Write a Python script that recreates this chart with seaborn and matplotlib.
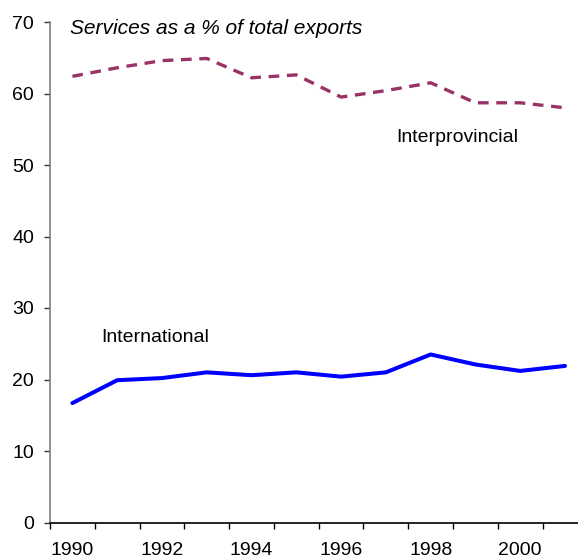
import pandas as pd
import matplotlib.pyplot as plt
import seaborn as sns

# DADOS
anos = ['1990', '1991', '1992', '1993', '1994', '1995', '1996', '1997', '1998', '1999', '2000', '2001']
internacional = [16.7, 19.9, 20.2, 21.0, 20.6, 21.0, 20.4, 21.0, 23.5, 22.1, 21.2, 21.9]
interprovincial = [62.4, 63.6, 64.6, 64.9, 62.2, 62.6, 59.5, 60.4, 61.5, 58.7, 58.7, 58.0]
rotulos_x = ['1990', '', '1992', '', '1994', '', '1996', '', '1998', '', '2000', '']

sns.set_style('white')
plt.rcParams['font.family'] = ['Liberation Sans', 'DejaVu Sans']
plt.rcParams['text.color'] = 'black'
plt.rcParams['xtick.color'] = 'black'
plt.rcParams['ytick.color'] = 'black'

df = pd.DataFrame({'pos': range(len(anos)), 'International': internacional,
                   'Interprovincial': interprovincial})

fig = plt.figure(figsize=(5.78, 5.6), dpi=100)
ax = fig.add_axes([50 / 578, 1 - 522.5 / 560, 1 - 50 / 578, 500.5 / 560])

sns.lineplot(data=df, x='pos', y='Interprovincial', ax=ax, color='#993366',
             linewidth=2.4, linestyle=(0, (3.2, 2.3)))
sns.lineplot(data=df, x='pos', y='International', ax=ax, color='#0000FF',
             linewidth=2.9)

ax.set_xlim(-0.5, 11.29)
ax.set_ylim(0, 70)
ax.set_yticks(range(0, 71, 10))
ax.set_xticks([i - 0.5 for i in range(len(anos))])
ax.set_xticklabels([''] * len(anos))
# rotulos no centro das categorias
ax.set_xticks(range(len(anos)), minor=True)
ax.set_xticklabels(rotulos_x, minor=True)
ax.tick_params(axis='x', which='minor', bottom=True, length=0, pad=14, labelsize=14)
ax.tick_params(axis='x', which='major', bottom=True, length=4.5, direction='out', width=1, color='black')
ax.tick_params(axis='y', left=True, length=4.5, direction='out', width=1, color='#333333',
               labelsize=14, pad=7)
ax.set_xlabel('')
ax.set_ylabel('')

for s in ['top', 'right']:
    ax.spines[s].set_visible(False)
ax.spines['left'].set_color('#808080')
ax.spines['left'].set_linewidth(1.2)
ax.spines['bottom'].set_color('black')
ax.spines['bottom'].set_linewidth(1.2)

fig.text(70 / 578, 1 - 28 / 560, 'Services as a % of total exports', style='italic',
         fontsize=15, va='center', ha='left')
fig.text(396 / 578, 1 - 137 / 560, 'Interprovincial', fontsize=14, va='center', ha='left')
fig.text(101 / 578, 1 - 337 / 560, 'International', fontsize=14, va='center', ha='left')

plt.savefig('out.png', dpi=100)
